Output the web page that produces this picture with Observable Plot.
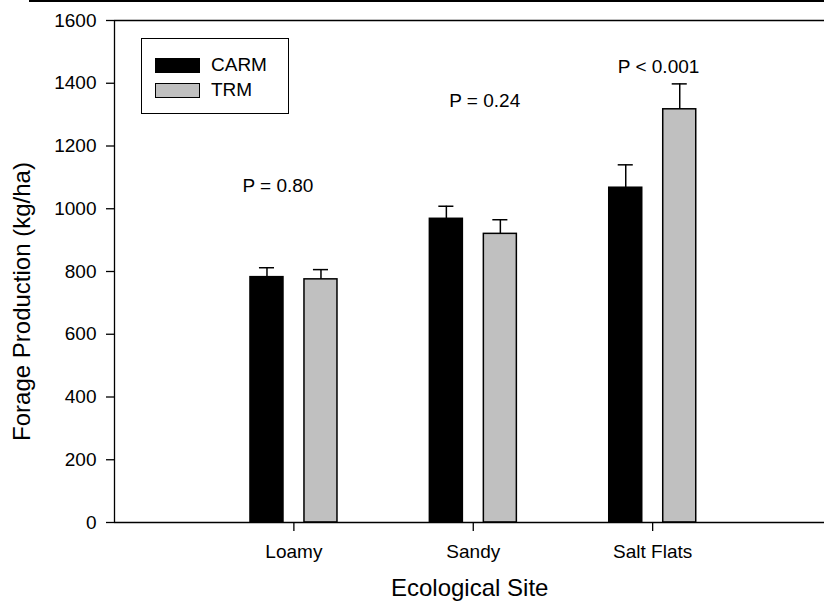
<!DOCTYPE html>
<html>
<head>
<meta charset="utf-8">
<script src="https://cdn.jsdelivr.net/npm/d3@7"></script>
<script src="https://cdn.jsdelivr.net/npm/@observablehq/plot@0.6"></script>
<style>
  html, body { margin: 0; padding: 0; background: #fff; }
  #wrap { position: relative; width: 824px; height: 605px; overflow: hidden; font-family: "Liberation Sans", Arial, sans-serif; }
  #topline { position: absolute; left: 29px; top: 0; width: 795px; height: 2px; background: #000; }
  #legend { position: absolute; left: 141px; top: 38px; width: 148px; height: 76px; border: 1px solid #000; background: #fff; box-sizing: border-box; }
  .li { position: absolute; left: 13px; height: 16px; display: flex; align-items: center; }
  .sw { width: 45px; height: 15px; box-sizing: border-box; border: 1.5px solid #000; }
  .lt { margin-left: 11px; font-size: 19px; color: #000; line-height: 16px; }
</style>
</head>
<body>
<div id="wrap">
  <div id="chart"></div>
  <div id="topline"></div>
  <div id="legend"></div>
</div>
<script>
// ---- data ----
const sites = ["Loamy", "Sandy", "Salt Flats"];
const treatments = ["CARM", "TRM"];
const carmMean = [782, 968, 1067];
const carmSE = [30, 40, 73];
const trmMean = [775, 920, 1317];
const trmSE = [31, 45, 81];
const pLabels = ["P = 0.80", "P = 0.24", "P < 0.001"];
const yTicks = [0, 200, 400, 600, 800, 1000, 1200, 1400, 1600];
const treatmentColors = ["#000000", "#c0c0c0"];

// ---- layout (annotation placement, in scale units) ----
const pLabelX = [0.911, 2.064, 3.033];
const pLabelY = [1074, 1343, 1451];
const barOffset = { CARM: -0.150, TRM: 0.151 };
const barHalf = 0.092;
const capHalf = 0.042;

const rows = [];
sites.forEach((s, i) => {
  rows.push({ site: s, idx: i + 1, trt: "CARM", mean: carmMean[i], se: carmSE[i] });
  rows.push({ site: s, idx: i + 1, trt: "TRM", mean: trmMean[i], se: trmSE[i] });
});
const cx = d => d.idx + barOffset[d.trt];

const chart = Plot.plot({
  width: 824,
  height: 605,
  marginLeft: 114,
  marginRight: 0,
  marginTop: 20,
  marginBottom: 83,
  style: { fontFamily: "'Liberation Sans', Arial, sans-serif", fontSize: "19px", color: "#000", background: "#fff" },
  x: { type: "linear", domain: [0, 3.958] },
  y: { domain: [0, 1600] },
  color: { domain: treatments, range: treatmentColors },
  marks: [
    Plot.rectY(rows, { x1: d => cx(d) - barHalf, x2: d => cx(d) + barHalf, y1: 0, y2: "mean", fill: "trt", stroke: "#000", strokeWidth: 1.5 }),
    Plot.ruleX(rows, { x: cx, y1: "mean", y2: d => d.mean + d.se, stroke: "#000", strokeWidth: 1.5 }),
    Plot.ruleY(rows, { y: d => d.mean + d.se, x1: d => cx(d) - capHalf, x2: d => cx(d) + capHalf, stroke: "#000", strokeWidth: 1.5 }),
    Plot.ruleX([0], { y1: 0, y2: 1600, stroke: "#000", strokeWidth: 1.3 }),
    Plot.ruleY([0], { stroke: "#000", strokeWidth: 1.3 }),
    Plot.ruleY([1600], { stroke: "#000", strokeWidth: 1.3 }),
    Plot.axisY({ ticks: yTicks, tickSize: 8, tickPadding: 10, tickFormat: d => String(d), label: null, fontSize: 19, strokeWidth: 1.3 }),
    Plot.axisX({ ticks: [1, 2, 3], tickFormat: d => sites[d - 1], tickSize: 9, tickPadding: 13, label: null, fontSize: 19, strokeWidth: 1.3 }),
    Plot.text(pLabels, { x: (d, i) => pLabelX[i], y: (d, i) => pLabelY[i], text: d => d, fontSize: 19, fill: "#000" }),
    Plot.text(["Ecological Site"], { x: 1.98, frameAnchor: "bottom", dy: 73, text: d => d, fontSize: 24, fill: "#000" }),
    Plot.text(["Forage Production (kg/ha)"], { frameAnchor: "left", textAnchor: "middle", dx: -92, dy: 30, rotate: -90, text: d => d, fontSize: 24, fill: "#000" })
  ]
});
document.getElementById("chart").appendChild(chart);

// legend
const legend = document.getElementById("legend");
treatments.forEach((t, i) => {
  const item = document.createElement("div");
  item.className = "li";
  item.style.top = (18 + i * 25) + "px";
  const sw = document.createElement("div");
  sw.className = "sw";
  sw.style.background = treatmentColors[i];
  const lt = document.createElement("span");
  lt.className = "lt";
  lt.textContent = t;
  item.appendChild(sw);
  item.appendChild(lt);
  legend.appendChild(item);
});
</script>
</body>
</html>
